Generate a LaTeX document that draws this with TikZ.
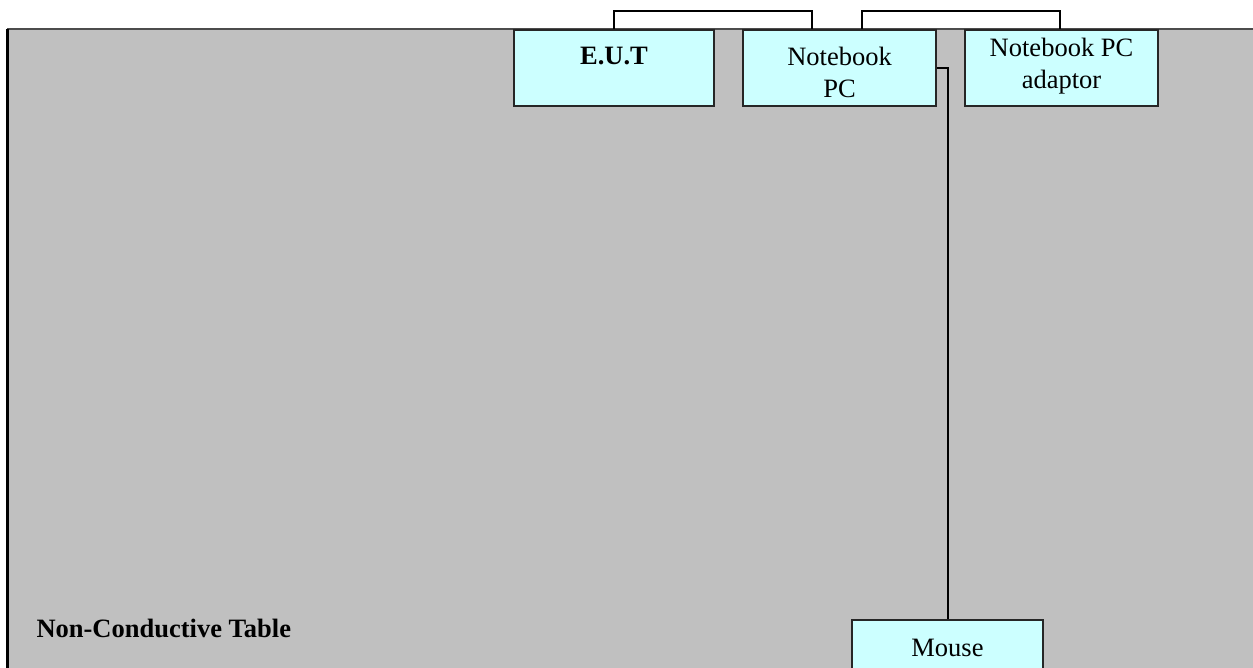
\documentclass[tikz,border=0pt]{standalone}
\usepackage{fontspec}
\setmainfont{Liberation Serif}
\usetikzlibrary{positioning}
\definecolor{tablegray}{HTML}{C0C0C0}
\definecolor{boxcyan}{HTML}{CCFFFF}
\newcommand{\boxtxt}[3]{\parbox[t][#2][t]{188pt}{\centering\vspace*{#1}#3}}
\tikzset{
  dev/.style={draw=black!85, line width=2pt, fill=boxcyan, inner sep=0pt,
    anchor=north west, minimum height=76pt},
  wire/.style={line width=2pt}
}
\begin{document}
\begin{tikzpicture}[x=1pt,y=-1pt,font=\fontsize{26.5}{32}\selectfont]
\useasboundingbox (0,0) rectangle (1253,667);
%\draw[pink] (0,0) rectangle (1253,667);
\fill[tablegray] (7,29) rectangle (1270,690);
\draw[black!70, line width=2.4pt] (1270,29) -- (7,29);
\draw[line width=3pt] (7,29) -- (7,690);
\node[anchor=west] (table) at (33,628) {\textbf{Non-Conductive Table}};
% devices
\node[dev, minimum width=200pt] (eut) at (513,29) {\boxtxt{17pt}{76pt}{\textbf{E.U.T}}};
\node[dev, minimum width=193pt] (nbpc) at (742,29) {\boxtxt{17pt}{76pt}{Notebook\\PC}};
\node[dev, minimum width=193pt] (adaptor) at (964,29) {\boxtxt{8pt}{76pt}{Notebook PC\\adaptor}};
\node[dev, minimum width=191pt, minimum height=60pt] (mouse) at (851,619) {\boxtxt{19pt}{60pt}{Mouse}};
% cables
\draw[wire] (eut.north) -- ++(0,-18) -| ([xshift=70pt]nbpc.north west);
\draw[wire] ([xshift=120pt]nbpc.north west) -- ++(0,-18) -| ([xshift=-2pt]adaptor.north);
\draw[wire] (nbpc.east) -| (mouse.north);
\end{tikzpicture}
\end{document}
